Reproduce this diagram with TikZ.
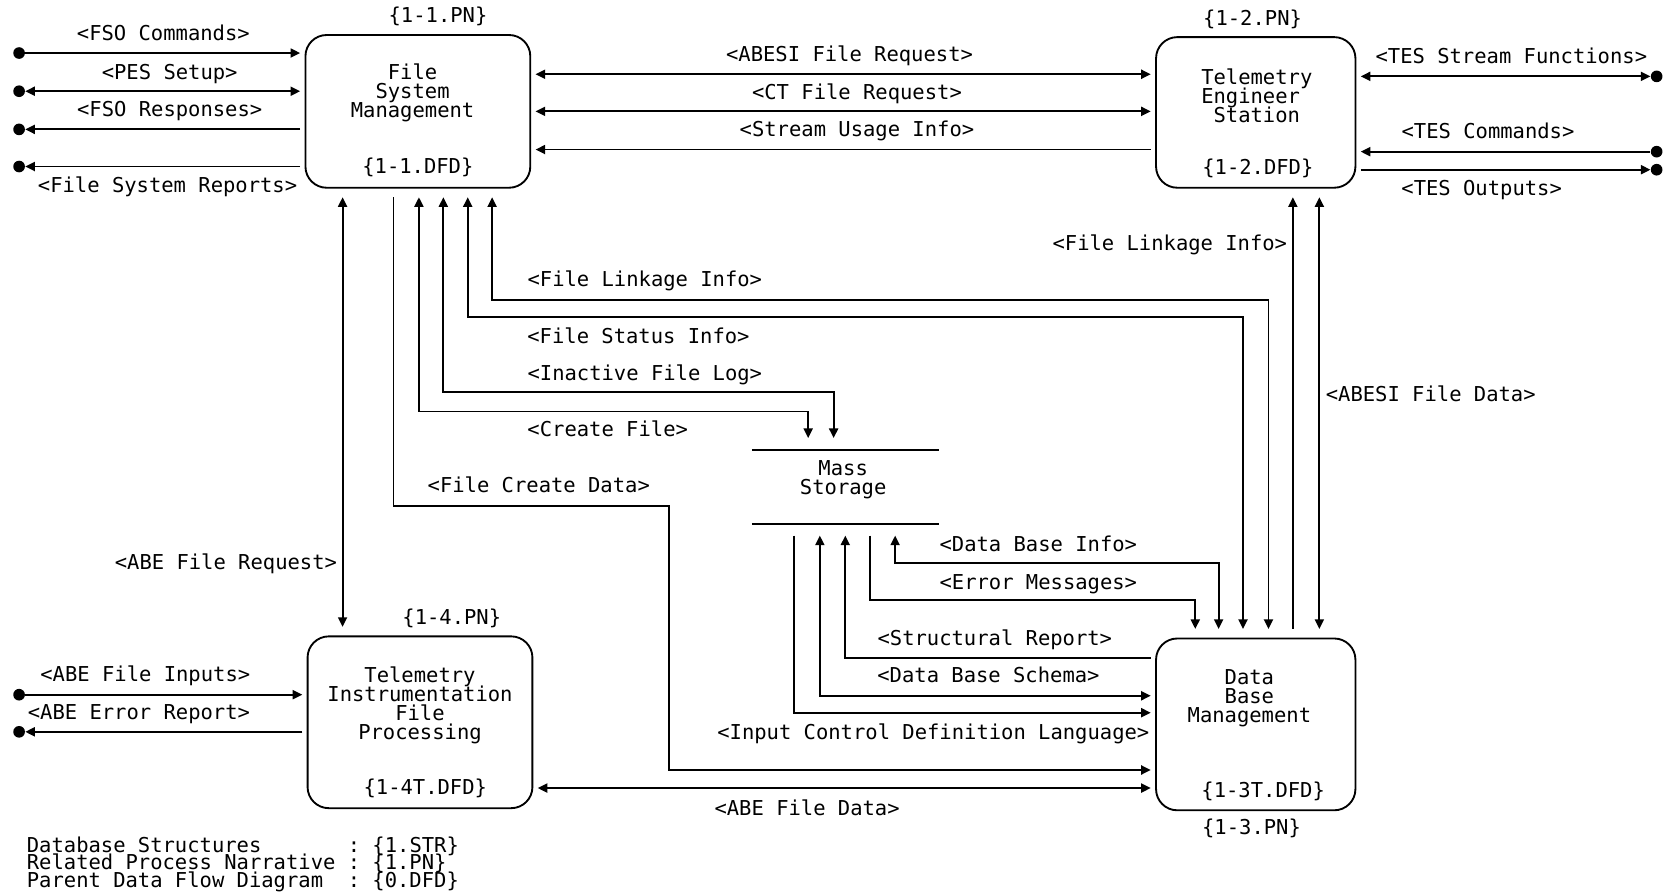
\documentclass[tikz,border=0pt]{standalone}
\usepackage{fontspec}
\setmonofont{DejaVu Sans Mono}
\usetikzlibrary{arrows.meta,positioning,calc}
\lineskiplimit=-100pt

\begin{document}
\begin{tikzpicture}[x=0.2mm,y=-0.2mm,
    font=\ttfamily\fontsize{11pt}{10.2pt}\selectfont,
    proc/.style={draw,line width=1pt,rounded corners=4mm,outer xsep=1mm,outer ysep=1.8mm},
    store/.style={minimum width=35.2mm,minimum height=14mm,inner sep=0pt,outer xsep=0pt,outer ysep=2.2mm},
    title/.style={align=center,inner sep=0pt},
    lbl/.style={inner sep=0pt,text height=0.76em,text depth=0.24em},
    term/.style={circle,fill=black,inner sep=0pt,minimum size=2.2mm},
    tip/.tip={Triangle[length=1.8mm,width=1.7mm]},
    flow/.style={-tip,line width=1pt},
    both/.style={tip-tip,line width=1pt},
    plain/.style={line width=1pt}
  ]
    \useasboundingbox (0,0) rectangle (1568,842);

    \node[proc,minimum width=42.4mm,minimum height=28.8mm] (fsm) at (394,105) {};
    \node[proc,minimum width=37.6mm,minimum height=28.4mm] (tes) at (1184,106) {};
    \node[proc,minimum width=42.4mm,minimum height=32.4mm] (tifp) at (396,681) {};
    \node[proc,minimum width=37.6mm,minimum height=32.4mm] (dbm) at (1184,683) {};
    \node[store] (ms) at (797,459) {};
    \draw[plain] ([yshift=-2.2mm]ms.north west) -- ([yshift=-2.2mm]ms.north east)
                 ([yshift=2.2mm]ms.south west) -- ([yshift=2.2mm]ms.south east);

    \node[title] (fsmT) at (389,88) {File\\System\\Management};
    \node[title,align=left] (tesT) at (1185,90) {Telemetry\\Engineer\\~Station};
    \node[title] (tifpT) at (396,665) {Telemetry\\Instrumentation\\File\\Processing};
    \node[title] (dbmT) at (1178,658) {Data\\Base\\Management};
    \node[title] (msT) at (795,452) {Mass\\Storage};

    \node[lbl] (fsmPN) at (413,17) {\{1-1.PN\}};
    \node[lbl] (fsmDFD) at (394,159) {\{1-1.DFD\}};
    \node[lbl] (tesPN) at (1181,19) {\{1-2.PN\}};
    \node[lbl] (tesDFD) at (1186,160) {\{1-2.DFD\}};
    \node[lbl] (tifpPN) at (426,584) {\{1-4.PN\}};
    \node[lbl] (tifpDFD) at (401,745) {\{1-4T.DFD\}};
    \node[lbl] (dbmDFD) at (1191,747) {\{1-3T.DFD\}};
    \node[lbl] (dbmPN) at (1180,782) {\{1-3.PN\}};

    \node[term] (tFsoCmd) at (18,50) {};
    \node[term] (tPes) at (18,86) {};
    \node[term] (tFsoRsp) at (18,122) {};
    \node[term] (tFsRep) at (18,157) {};
    \node[term] (tTesStr) at (1562,72) {};
    \node[term] (tTesCmd) at (1562,143) {};
    \node[term] (tTesOut) at (1562,160) {};
    \node[term] (tAbeIn) at (18,655) {};
    \node[term] (tAbeErr) at (18,690) {};

    \draw[flow] (tFsoCmd) -- (tFsoCmd -| fsm.west);
    \draw[both] (tPes) -- (tPes -| fsm.west);
    \draw[flow] (tFsoRsp -| fsm.west) -- (tFsoRsp);
    \draw[flow] (tFsRep -| fsm.west) -- (tFsRep);

    \draw[both] (fsm.east |- 0,70) -- (tes.west |- 0,70);
    \draw[both] (fsm.east |- 0,105) -- (tes.west |- 0,105);
    \draw[flow] (tes.west |- 0,141) -- (fsm.east |- 0,141);

    \draw[both] (tTesStr -| tes.east) -- (tTesStr);
    \draw[flow] (tTesCmd) -- (tTesCmd -| tes.east);
    \draw[flow] (tTesOut -| tes.east) -- (tTesOut);

    \draw[both] (323,0 |- fsm.south) -- (323,0 |- tifp.north);
    \draw[flow] (371,0 |- fsm.south) |- (631,477) |- (631,726 -| dbm.west);
    \draw[both] (395,0 |- fsm.south) |- (762,388) -- (762,0 |- ms.north);
    \draw[both] (418,0 |- fsm.south) |- (786,370) -- (786,0 |- ms.north);
    \draw[both] (441,0 |- fsm.south) |- (1172,299) -- (1172,0 |- dbm.north);
    \draw[both] (464,0 |- fsm.south) |- (1196,283) -- (1196,0 |- dbm.north);

    \draw[flow] (1219,0 |- dbm.north) -- (1219,0 |- tes.south);
    \draw[both] (1244,0 |- dbm.north) -- (1244,0 |- tes.south);

    \draw[both] (844,0 |- ms.south) |- (1149,531) -- (1149,0 |- dbm.north);
    \draw[flow] (820,0 |- ms.south) |- (1127,566) -- (1127,0 |- dbm.north);
    \draw[flow] (dbm.west |- 0,620) -| (797,0 |- ms.south);
    \draw[both] (773,0 |- ms.south) |- (dbm.west |- 0,656);
    \draw[flow] (749,0 |- ms.south) |- (dbm.west |- 0,672);

    \draw[flow] (tAbeIn) -- (tAbeIn -| tifp.west);
    \draw[flow] (tAbeErr -| tifp.west) -- (tAbeErr);
    \draw[both] (tifp.east |- 0,743) -- (dbm.west |- 0,743);

    \node[lbl] (lFsoCmd) at (154,34) {<FSO Commands>};
    \node[lbl] (lPes) at (160,70) {<PES Setup>};
    \node[lbl] (lFsoRsp) at (160,105) {<FSO Responses>};
    \node[lbl] (lFsRep) at (158,177) {<File System Reports>};
    \node[lbl] (lAbesiReq) at (801,53) {<ABESI File Request>};
    \node[lbl] (lCtReq) at (808,89) {<CT File Request>};
    \node[lbl] (lStream) at (808,124) {<Stream Usage Info>};
    \node[lbl] (lTesStr) at (1425,55) {<TES Stream Functions>};
    \node[lbl] (lTesCmd) at (1403,126) {<TES Commands>};
    \node[lbl] (lTesOut) at (1397,180) {<TES Outputs>};
    \node[lbl] (lLinkA) at (608,266) {<File Linkage Info>};
    \node[lbl] (lLinkB) at (1103,232) {<File Linkage Info>};
    \node[lbl] (lStatus) at (602,319) {<File Status Info>};
    \node[lbl] (lInactive) at (608,354) {<Inactive File Log>};
    \node[lbl] (lAbesiData) at (1349,374) {<ABESI File Data>};
    \node[lbl] (lCreate) at (573,407) {<Create File>};
    \node[lbl] (lCreateData) at (508,460) {<File Create Data>};
    \node[lbl] (lDbInfo) at (979,515) {<Data Base Info>};
    \node[lbl] (lAbeReq) at (213,532) {<ABE File Request>};
    \node[lbl] (lErr) at (979,551) {<Error Messages>};
    \node[lbl] (lStruct) at (938,604) {<Structural Report>};
    \node[lbl] (lSchema) at (932,639) {<Data Base Schema>};
    \node[lbl] (lAbeIn) at (137,638) {<ABE File Inputs>};
    \node[lbl] (lAbeErr) at (131,674) {<ABE Error Report>};
    \node[lbl] (lIcdl) at (880,693) {<Input Control Definition Language>};
    \node[lbl] (lAbeData) at (761,764) {<ABE File Data>};

    \node[inner sep=0pt,anchor=west,align=left,font=\ttfamily\fontsize{11pt}{9.6pt}\selectfont]
      (legend) at (25,815) {Database Structures~~~~~~~: \{1.STR\}\\
        Related Process Narrative : \{1.PN\}\\
        Parent Data Flow Diagram~~: \{0.DFD\}};
  \end{tikzpicture}
\end{document}
